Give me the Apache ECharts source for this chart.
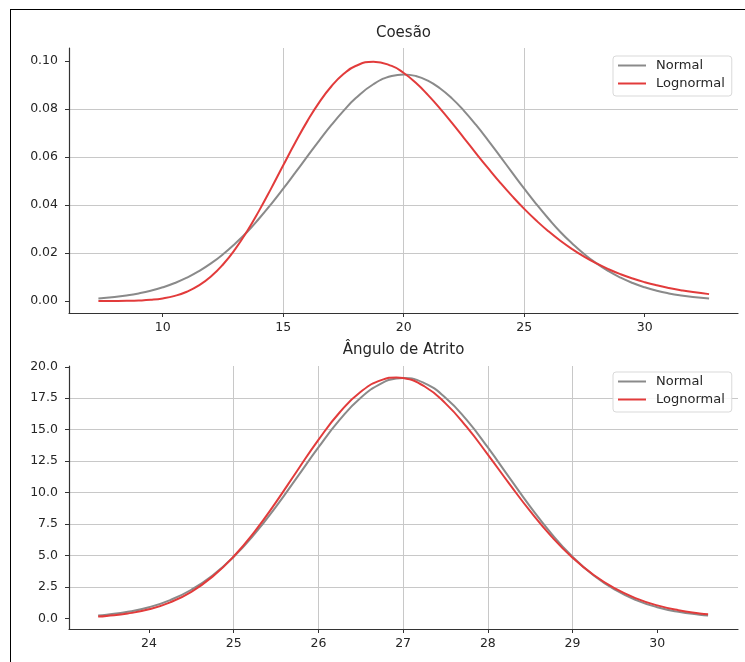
<!DOCTYPE html>
<html>
<head>
<meta charset="utf-8">
<script src="https://cdn.jsdelivr.net/npm/echarts@6/dist/echarts.min.js"></script>
<style>
  html, body { margin: 0; padding: 0; background: #fff; }
  #chart { width: 745px; height: 662px; }
  #frame {
    position: absolute; left: 10px; top: 9px; width: 740px; height: 660px;
    border-left: 1.5px solid #000; border-top: 1.5px solid #000;
    pointer-events: none;
  }
</style>
</head>
<body>
<div id="chart"></div>
<div id="frame"></div>
<script>
// Coesão
const coesaoX = [7.33, 8, 8.5, 9, 9.5, 10, 10.5, 11, 11.5, 12, 12.5, 13, 13.5, 14, 14.5, 15, 15.5, 16, 16.5, 17, 17.5, 18, 18.74, 19.5, 20,
  20.5, 21, 21.5, 22, 22.5, 23, 23.5, 24, 24.5, 25, 25.5, 26, 26.5, 27, 27.5, 28, 28.5, 29, 29.5, 30, 30.5, 31, 31.5, 32, 32.67];
const coesaoNormal = [0.00104, 0.00166, 0.00231, 0.00317, 0.00428, 0.00571, 0.00750, 0.00972, 0.01243, 0.01567, 0.01948, 0.02388, 0.02877,
  0.0344, 0.04042, 0.04684, 0.05352, 0.0603, 0.06700, 0.0734, 0.07929, 0.0845, 0.09038, 0.09384, 0.0945,
  0.09384, 0.0919, 0.08871, 0.0845, 0.07929, 0.0734, 0.06700, 0.0603, 0.05352, 0.04684, 0.04042, 0.0344, 0.02877,
  0.02388, 0.01948, 0.01567, 0.01243, 0.00972, 0.00750, 0.00571, 0.00428, 0.00317, 0.00231, 0.00166, 0.00104];
const coesaoLognormal = [0.000004, 0.000025, 0.000077, 0.00021, 0.00050, 0.00108, 0.00213, 0.00385, 0.00648, 0.01022, 0.01523, 0.02153, 0.02909,
  0.03769, 0.04697, 0.05661, 0.06608, 0.07501, 0.08294, 0.08956, 0.09463, 0.09801, 0.0998, 0.09802, 0.09506,
  0.09097, 0.08598, 0.08033, 0.07426, 0.06795, 0.06161, 0.05538, 0.04937, 0.04371, 0.03841, 0.03355, 0.02911, 0.02512,
  0.02157, 0.01841, 0.01565, 0.01325, 0.01117, 0.00937, 0.00784, 0.00654, 0.00544, 0.00451, 0.00372, 0.00287];
const coesaoXTicks = [10, 15, 20, 25, 30];
const coesaoYTicks = [0, 0.02, 0.04, 0.06, 0.08, 0.10];

// Ângulo de Atrito
const atritoX = [23.4, 23.5, 23.75, 24, 24.25, 24.5, 24.75, 25, 25.25, 25.5, 25.75, 26, 26.25, 26.5, 26.75, 26.92, 27,
  27.25, 27.5, 27.75, 28, 28.25, 28.5, 28.75, 29, 29.25, 29.5, 29.75, 30, 30.25, 30.5, 30.6];
const atritoNormal = [0.233, 0.296, 0.526, 0.895, 1.459, 2.279, 3.414, 4.90, 6.740, 8.885, 11.226, 13.59, 15.774, 17.54, 18.70, 19.06, 19.1,
  18.70, 17.54, 15.774, 13.59, 11.226, 8.885, 6.740, 4.90, 3.414, 2.279, 1.459, 0.895, 0.526, 0.296, 0.233];
const atritoLognormal = [0.146, 0.196, 0.389, 0.726, 1.278, 2.118, 3.321, 4.924, 6.925, 9.246, 11.739, 14.19, 16.363, 18.01, 18.96, 19.146, 19.10,
  18.45, 17.09, 15.214, 13.02, 10.733, 8.522, 6.526, 4.826, 3.450, 2.385, 1.596, 1.035, 0.651, 0.397, 0.323];
const atritoXTicks = [24, 25, 26, 27, 28, 29, 30];
const atritoYTicks = [0, 2.5, 5, 7.5, 10, 12.5, 15, 17.5, 20];

const FONT = "DejaVu Sans";
const GRAY = "#8a8a8a";
const RED = "#e23b3b";

function pairs(xs, ys) {
  return xs.map((x, i) => [x, ys[i]]);
}

function axis(opts) {
  return {
    type: "value",
    gridIndex: opts.grid,
    min: opts.min,
    max: opts.max,
    minInterval: opts.step,
    maxInterval: opts.step,
    axisLine: { show: true, onZero: false, lineStyle: { color: "#333", width: 1.2 } },
    axisTick: { show: true, length: 4, customValues: opts.ticks, lineStyle: { color: "#333" } },
    axisLabel: {
      customValues: opts.ticks,
      margin: opts.margin,
      color: "#262626",
      fontSize: 12.5,
      fontFamily: FONT,
      formatter: v => opts.digits == null ? String(v) : Number(v).toFixed(opts.digits)
    },
    splitLine: { show: true, showMinLine: false, showMaxLine: false, lineStyle: { color: "#c8c8c8", width: 1 } }
  };
}

function legend(top) {
  return {
    data: [
      { name: "Normal", icon: "rect", itemStyle: { color: GRAY } },
      { name: "Lognormal", icon: "rect", itemStyle: { color: RED } }
    ],
    orient: "vertical",
    left: 613,
    top: top,
    itemWidth: 28,
    itemHeight: 2,
    itemGap: 5,
    padding: [3, 7, 6, 5],
    backgroundColor: "rgba(255,255,255,0.85)",
    borderColor: "#d9d9d9",
    borderWidth: 1,
    borderRadius: 3,
    textStyle: { color: "#262626", fontSize: 13, fontFamily: FONT, padding: [0, 0, 0, 5] }
  };
}

function line(name, color, xAxisIndex, data) {
  return {
    name: name,
    type: "line",
    xAxisIndex: xAxisIndex,
    yAxisIndex: xAxisIndex,
    data: data,
    smooth: true,
    symbol: "none",
    lineStyle: { color: color, width: 2 },
    itemStyle: { color: color }
  };
}

const chart = echarts.init(document.getElementById("chart"), null, { renderer: "canvas" });
chart.setOption({
  animation: false,
  backgroundColor: "#fff",
  textStyle: { fontFamily: FONT },
  title: [
    { text: "Coesão", left: 403.5, top: 26, textAlign: "center", padding: 0,
      textStyle: { fontSize: 15, fontWeight: "normal", color: "#262626", fontFamily: FONT } },
    { text: "Ângulo de Atrito", left: 403.5, top: 343, textAlign: "center", padding: 0,
      textStyle: { fontSize: 15, fontWeight: "normal", color: "#262626", fontFamily: FONT } }
  ],
  legend: [legend(56), legend(372)],
  grid: [
    { left: 69, top: 48, width: 669, height: 265, containLabel: false },
    { left: 69, top: 366, width: 669, height: 263, containLabel: false }
  ],
  xAxis: [
    axis({ grid: 0, min: 6.11, max: 33.87, step: 5, ticks: coesaoXTicks, margin: 8 }),
    axis({ grid: 1, min: 23.056, max: 30.953, step: 1, ticks: atritoXTicks, margin: 8 })
  ],
  yAxis: [
    axis({ grid: 0, min: -0.005, max: 0.1055, step: 0.02, ticks: coesaoYTicks, margin: 11, digits: 2 }),
    axis({ grid: 1, min: -0.84, max: 20.06, step: 2.5, ticks: atritoYTicks, margin: 11, digits: 1 })
  ],
  series: [
    line("Normal", GRAY, 0, pairs(coesaoX, coesaoNormal)),
    line("Lognormal", RED, 0, pairs(coesaoX, coesaoLognormal)),
    line("Normal", GRAY, 1, pairs(atritoX, atritoNormal)),
    line("Lognormal", RED, 1, pairs(atritoX, atritoLognormal))
  ]
});
</script>
</body>
</html>
